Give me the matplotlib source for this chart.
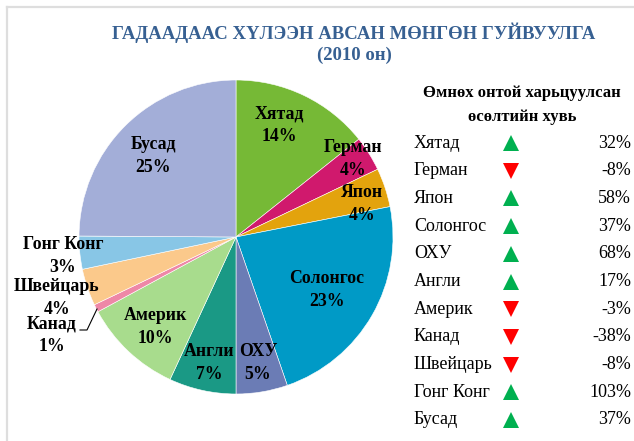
import matplotlib.pyplot as plt
from matplotlib.lines import Line2D

# pie data (share of remittances, %)
countries = ["Хятад", "Герман", "Япон", "Солонгос", "ОХУ", "Англи",
             "Америк", "Канад", "Швейцарь", "Гонг Конг", "Бусад"]
shares = [14.3, 3.6, 4.0, 22.8, 5.3, 6.9, 10.2, 0.8, 3.8, 3.4, 24.9]
colors = ["#76B936", "#D0196D", "#E3A30D", "#009AC6", "#6B7CB5", "#1A9985",
          "#A8DC8D", "#EE87A7", "#FBC98B", "#88C6E6", "#A3AED8"]

# growth vs previous year, %
growth = [32, -8, 58, 37, 68, 17, -3, -38, -8, 103, 37]

W, H = 634, 441
fig = plt.figure(figsize=(W / 100, H / 100), dpi=100)
ax = fig.add_axes([0, 0, 1, 1])

serif = "Liberation Serif"

cx, cy, r = 236, H - 237, 157
wedges, _ = ax.pie(shares, colors=colors, startangle=90, counterclock=False,
                   center=(cx, cy), radius=r, frame=True,
                   wedgeprops=dict(edgecolor="white", linewidth=0.4))
ax.set_xlim(0, W)
ax.set_ylim(0, H)
ax.set_aspect("equal")
ax.axis("off")

# chart border (only top/left visible in the crop)
ax.add_line(Line2D([6.5, 6.5], [0, H - 6.5], color="#DEDEDE", lw=1.6))
ax.add_line(Line2D([6.5, W], [H - 6.5, H - 6.5], color="#DEDEDE", lw=1.6))

# label positions in pixel coords (x, y from top)
label_pos = [(279, 125), (353, 159), (362, 204), (327, 290), (258, 363),
             (209, 363), (155, 327), (52, 335), (57, 298), (63, 256), (153, 156)]
for name, val, (lx, ly) in zip(countries, shares, label_pos):
    ax.text(lx, H - ly, f"{name}\n{val:.0f}%", ha="center", va="center",
            fontsize=12.8, fontweight="bold", family=serif, linespacing=1.45)

# leader line for Канад
ax.add_line(Line2D([80, 87, 97], [H - 330, H - 330, H - 309],
                   color="black", lw=0.8))

ax.text(354, H - 43, "ГАДААДААС ХҮЛЭЭН АВСАН МӨНГӨН ГУЙВУУЛГА\n(2010 он)",
        ha="center", va="center", fontsize=13.5, fontweight="bold",
        family=serif, color="#376092", linespacing=1.25)

# growth table
ax.text(522, H - 105, "Өмнөх онтой харьцуулсан\nөсөлтийн хувь", ha="center",
        va="center", fontsize=12, fontweight="bold", family=serif,
        linespacing=1.7)
row0, step = 143, 27.7
for i, (name, g) in enumerate(zip(countries, growth)):
    y = H - (row0 + i * step)
    ax.text(414, y, name, ha="left", va="center", fontsize=13, family=serif)
    ax.text(631, y, f"{g}%", ha="right", va="center", fontsize=13,
            family=serif)
    up = g >= 0
    ax.plot(511, y, marker="^" if up else "v", markersize=11,
            color="#00B050" if up else "#FF0000", markeredgewidth=0)

fig.savefig("out.png", dpi=100, facecolor="white")
